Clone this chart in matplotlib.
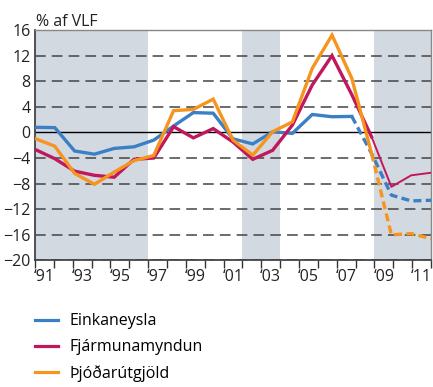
import matplotlib.pyplot as plt

# Hagvöxtur: framlag (% af VLF), spá frá 2008/2009
years = list(range(1991, 2012))
einkaneysla = [0.8, 0.75, -2.9, -3.4, -2.5, -2.25, -1.2, 1.0, 3.1, 3.0, -1.0,
               -1.8, 0.1, -0.15, 2.8, 2.45, 2.5, -3.3, -9.8, -10.7, -10.6]
fjarmunamyndun = [-2.65, -4.1, -6.05, -6.7, -7.0, -4.2, -4.0, 0.9, -0.85, 0.6, -1.5,
                  -4.2, -2.8, 1.15, 7.4, 12.0, 5.9, -0.7, -8.5, -6.7, -6.3]
thjodarutgjold = [-0.95, -2.15, -6.4, -8.1, -6.2, -4.4, -3.6, 3.4, 3.6, 5.2, -1.2,
                  -3.55, 0.1, 1.65, 10.0, 15.2, 8.45, -3.3, -16.0, -15.8, -16.6]
# fyrsta spáár hverrar raðar
spa_einka = 2007
spa_fjarm = 2008
spa_thjod = 2008
# skyggð tímabil (í flokkum: fyrsta ár, síðasta ár)
skygging = [(1991, 1996), (2002, 2003), (2009, 2011)]
yticks = list(range(-20, 17, 4))

BLUE = '#3b7fc4'
MAGENTA = '#c0175d'
ORANGE = '#f7941d'
SHADE = '#d3d9e1'

plt.rcParams['font.family'] = ['Open Sans', 'DejaVu Sans']
plt.rcParams['font.size'] = 11.5

fig = plt.figure(figsize=(4.33, 3.87), dpi=100)
ax = fig.add_axes([0.0808, 0.327, 0.9146, 0.5955])

# flokkaás: 21 ár yfir sama bil og gögnin
n = len(years)
step = (years[-1] - years[0]) / n
def edge(k):
    return years[0] + k * step

for a, b in skygging:
    ax.axvspan(edge(a - years[0]), edge(b - years[0] + 1), color=SHADE, lw=0, zorder=0)

for v in yticks:
    if v == 0 or v == 16:
        continue
    ax.axhline(v, color='#444444', lw=1.1, dashes=(7, 4), zorder=1)
ax.axhline(0, color='black', lw=1.0, zorder=1)

def draw(vals, last_actual, color, style):
    i = years.index(last_actual)
    ax.plot(years[:i + 1], vals[:i + 1], color=color, lw=2.4, zorder=3,
            solid_joinstyle='miter')
    if style == 'dashed':
        ax.plot(years[i:], vals[i:], color=color, lw=2.4, dashes=(2.4, 1.3), zorder=3)
    else:
        ax.plot(years[i:], vals[i:], color=color, lw=1.4, zorder=3)

draw(einkaneysla, spa_einka, BLUE, 'dashed')
draw(fjarmunamyndun, spa_fjarm, MAGENTA, 'thin')
draw(thjodarutgjold, spa_thjod, ORANGE, 'dashed')

ax.set_xlim(years[0], years[-1])
ax.set_ylim(-20, 16)
ax.set_yticks(yticks)
ax.tick_params(axis='y', length=0, pad=3, labelsize=11.5, colors='#222222')

ax.set_xticks([edge(k) for k in range(n + 1)])
ax.set_xticklabels([])
ax.set_xticks([edge(k + 0.5) for k in range(0, n, 2)], minor=True)
ax.set_xticklabels(['\u2018' + str(y)[2:] for y in years[::2]], minor=True)
ax.tick_params(axis='x', which='major', direction='out', length=6, width=1, color='#333333')
ax.tick_params(axis='x', which='minor', length=0, pad=6, labelsize=11.5, colors='#222222')

for s in ['left', 'bottom']:
    ax.spines[s].set_color('#444444')
    ax.spines[s].set_linewidth(1.3)
for s in ['top', 'right']:
    ax.spines[s].set_color('#888888')
    ax.spines[s].set_linewidth(1.0)

fig.text(0.082, 0.944, '% af VLF', fontsize=11.5, ha='left', va='center', color='#222222')

handles = [plt.Line2D([], [], color=c, lw=2.3) for c in (BLUE, MAGENTA, ORANGE)]
fig.legend(handles, ['Einkaneysla', 'Fjármunamyndun', 'Þjóðarútgjöld'],
           loc='upper left', bbox_to_anchor=(0.08, 0.19), frameon=False,
           handlelength=1.45, handletextpad=0.75, labelspacing=0.62,
           borderaxespad=0, borderpad=0, fontsize=11.5)

fig.savefig('out.png', dpi=100)
